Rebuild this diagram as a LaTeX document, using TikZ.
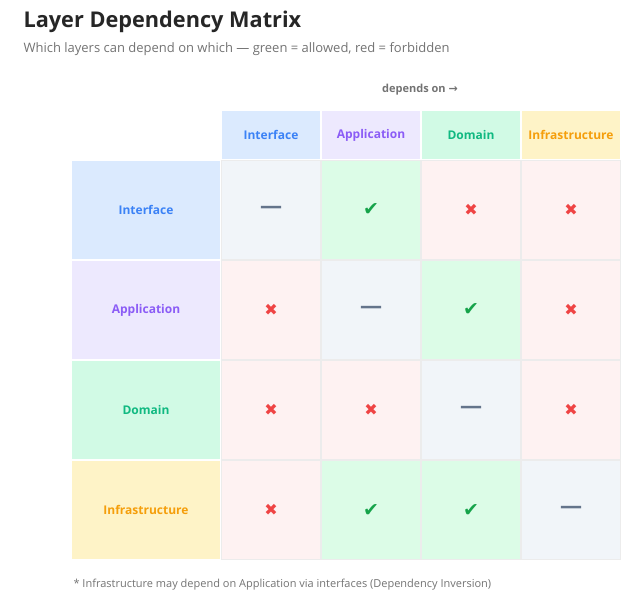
\documentclass[tikz,border=0pt]{standalone}
\usepackage{fontspec}
\setmainfont{Open Sans}
\newfontfamily\sym{DejaVu Sans}
\begin{document}
\begin{tikzpicture}[x=1pt,y=-1pt,
 cell/.style={draw=gray!15,line width=1.5pt,minimum width=99pt,minimum height=99pt,inner sep=0pt},
 hd/.style={minimum width=98pt,minimum height=48pt,inner sep=0pt,font=\bfseries\fontsize{12}{14}\selectfont},
 rh/.style={minimum width=148pt,minimum height=98pt,inner sep=0pt,font=\bfseries\fontsize{12}{14}\selectfont},
 ok/.style={cell,fill=okbg,text=okc,font=\sym\fontsize{19}{19}\selectfont},
 no/.style={cell,fill=nobg,text=noc,font=\sym\fontsize{16}{16}\selectfont},
 sm/.style={cell,fill=smbg,text=smc,font=\bfseries\fontsize{22}{22}\selectfont}]
\definecolor{okbg}{HTML}{DCFCE7}\definecolor{okc}{HTML}{16A34A}
\definecolor{nobg}{HTML}{FEF2F2}\definecolor{noc}{HTML}{EF4444}
\definecolor{smbg}{HTML}{F1F5F9}\definecolor{smc}{HTML}{64748B}
\definecolor{c1}{HTML}{DBEAFE}\definecolor{t1}{HTML}{3B82F6}
\definecolor{c2}{HTML}{EDE9FE}\definecolor{t2}{HTML}{8B5CF6}
\definecolor{c3}{HTML}{D1FAE5}\definecolor{t3}{HTML}{10B981}
\definecolor{c4}{HTML}{FEF3C7}\definecolor{t4}{HTML}{F59E0B}
\useasboundingbox (0,0) rectangle (642,613);
\node[anchor=west,font=\bfseries\fontsize{21.7}{24}\selectfont,text=black!85] (title) at (20,22) {Layer Dependency Matrix};
\node[anchor=west,font=\fontsize{13}{15}\selectfont,text=gray!90!black] (sub) at (20,49) {Which layers can depend on which — green = allowed, red = forbidden};
\node[font=\bfseries\fontsize{11}{13}\selectfont,text=gray!90!black] (dep) at (420,90) {depends on {\sym→}};
\foreach \n/\c/\i in {Interface/1/1,Application/2/2,Domain/3/3,Infrastructure/4/4}{
 \node[hd,fill=c\c,text=t\c] (h\i) at ({171+100*\i},135) {\n};
 \node[rh,fill=c\c,text=t\c] (r\i) at (146,{110+100*\i}) {\n};
}
\foreach \r/\col/\s/\t in {1/1/sm/—,1/2/ok/✔,1/3/no/✖,1/4/no/✖,2/1/no/✖,2/2/sm/—,2/3/ok/✔,2/4/no/✖,3/1/no/✖,3/2/no/✖,3/3/sm/—,3/4/no/✖,4/1/no/✖,4/2/ok/✔,4/3/ok/✔,4/4/sm/—}{
  \node[\s] (m\r\col) at ({171+100*\col},{110+100*\r}) {\t};
}
\node[anchor=west,font=\fontsize{11}{13}\selectfont,text=gray!90!black] (foot) at (70,585) {* Infrastructure may depend on Application via interfaces (Dependency Inversion)};
\end{tikzpicture}
\end{document}
